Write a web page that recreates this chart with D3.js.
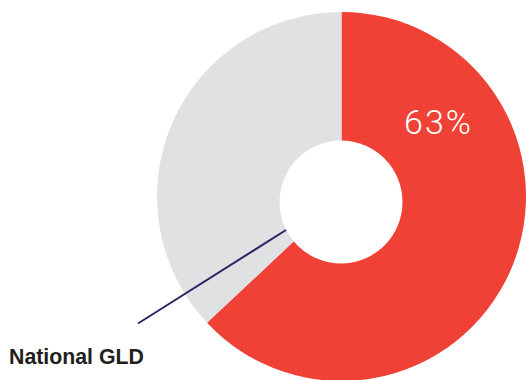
<!DOCTYPE html>
<html>
<head>
<meta charset="utf-8">
<script src="https://cdn.jsdelivr.net/npm/d3@7"></script>
<style>
    body { margin: 0; background: #fff; }
    svg { display: block; }
</style>
</head>
<body>
<div id="chart"></div>
<script>
// slice data: share of children reaching a good level of development
var categories = ["Reached GLD", "Not reached"];
var shares = [63, 37];
var colors = ["#ef4136", "#e0e1e3"];
var valueLabel = "63%";
var calloutLabel = "National GLD";

var width = 526, height = 380;

var svg = d3.select("#chart")
    .append("svg")
    .attr("width", width)
    .attr("height", height);

// the donut sits off to the right, partly cut by the bottom/right edges
var cx = 341.5, cy = 196.5,
    outerR = 184.5;

var pie = d3.pie()
    .sort(null)
    .value(function (d) { return d; });

var arc = d3.arc()
    .innerRadius(0)
    .outerRadius(outerR);

var g = svg.append("g")
    .attr("transform", "translate(" + cx + "," + cy + ")");

g.selectAll("path.slice")
    .data(pie(shares))
    .enter().append("path")
    .attr("class", "slice")
    .attr("d", arc)
    .attr("fill", function (d, i) { return colors[i]; });

// hole - slightly lower than the outer centre, like the original
g.append("circle")
    .attr("cx", -0.5)
    .attr("cy", 5.5)
    .attr("r", 61.5)
    .attr("fill", "#fff");

// percentage label on the red slice
g.append("text")
    .attr("x", 97)
    .attr("y", -62.5)
    .attr("text-anchor", "middle")
    .attr("fill", "#fff")
    .style("font-family", "Roboto, 'Liberation Sans', Arial, sans-serif")
    .style("font-weight", 300)
    .style("font-size", "34px")
    .style("letter-spacing", "2px")
    .text(valueLabel);

// leader line from the grey slice to the callout
svg.append("line")
    .attr("x1", 286)
    .attr("y1", 230)
    .attr("x2", 138)
    .attr("y2", 323.5)
    .attr("stroke", "#2b2565")
    .attr("stroke-width", 2);

svg.append("text")
    .attr("x", 9)
    .attr("y", 364)
    .attr("fill", "#231f20")
    .style("font-family", "'Liberation Sans', Arial, sans-serif")
    .style("font-weight", "bold")
    .style("font-size", "21.3px")
    .text(calloutLabel);
</script>
</body>
</html>
